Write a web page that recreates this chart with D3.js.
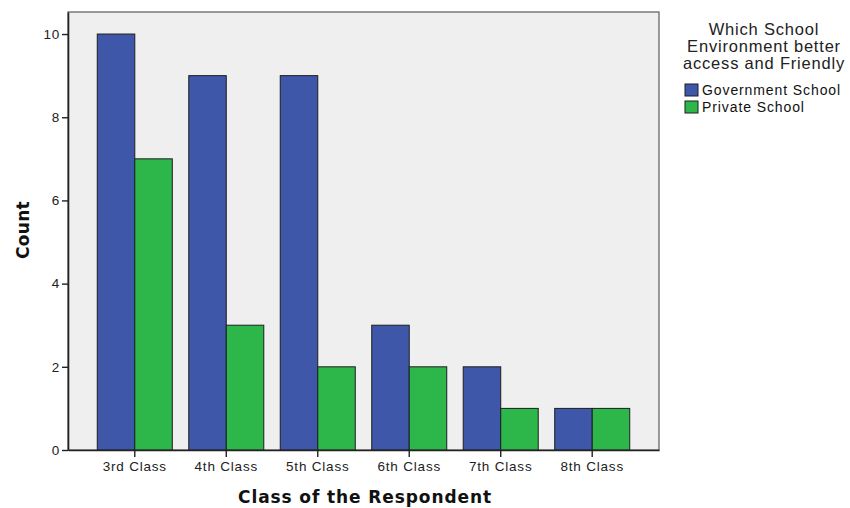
<!DOCTYPE html>
<html>
<head>
<meta charset="utf-8">
<script src="https://cdn.jsdelivr.net/npm/d3@7"></script>
<style>
  html, body { margin: 0; padding: 0; background: #ffffff; }
  svg { display: block; }
</style>
</head>
<body>
<svg id="chart" width="850" height="508"></svg>
<script>
// Respondent counts by class and preferred school environment
const categories = ["3rd Class", "4th Class", "5th Class", "6th Class", "7th Class", "8th Class"];
const seriesNames = ["Government School", "Private School"];
const governmentCounts = [10, 9, 9, 3, 2, 1];
const privateCounts = [7, 3, 2, 2, 1, 1];
const yTicks = [0, 2, 4, 6, 8, 10];
const legendTitle = ["Which School", "Environment better", "access and Friendly"];
const colors = ["#3e57a9", "#2db74b"];

const svg = d3.select("#chart");
const plot = { left: 68, right: 659, top: 12, bottom: 450 };

const x = d3.scaleBand()
  .domain(categories)
  .range([plot.left, plot.right])
  .paddingInner(0.18)
  .paddingOuter(0.32);

const xSub = d3.scaleBand()
  .domain(seriesNames)
  .range([0, x.bandwidth()]);

const y = d3.scaleLinear()
  .domain([0, 10.53])
  .range([plot.bottom, plot.top]);

const color = d3.scaleOrdinal().domain(seriesNames).range(colors);

// plot background and frame
svg.append("rect")
  .attr("x", plot.left).attr("y", plot.top)
  .attr("width", plot.right - plot.left).attr("height", plot.bottom - plot.top)
  .attr("fill", "#efefef")
  .attr("stroke", "#5a5a5a").attr("stroke-width", 1.2);

const rows = categories.map((c, i) => ({
  category: c,
  values: [
    { series: seriesNames[0], value: governmentCounts[i] },
    { series: seriesNames[1], value: privateCounts[i] }
  ]
}));

const groups = svg.append("g").selectAll("g")
  .data(rows)
  .join("g")
  .attr("transform", d => `translate(${x(d.category)},0)`);

groups.selectAll("rect")
  .data(d => d.values)
  .join("rect")
  .attr("x", d => xSub(d.series))
  .attr("y", d => y(d.value))
  .attr("width", xSub.bandwidth())
  .attr("height", d => y(0) - y(d.value))
  .attr("fill", d => color(d.series))
  .attr("stroke", "#1e1e1e")
  .attr("stroke-width", 1);

// axes
const yAxis = svg.append("g")
  .attr("transform", `translate(${plot.left},0)`)
  .call(d3.axisLeft(y).tickValues(yTicks).tickSize(6).tickSizeOuter(0).tickPadding(2).tickFormat(d3.format("d")));

const xAxis = svg.append("g")
  .attr("transform", `translate(0,${plot.bottom})`)
  .call(d3.axisBottom(x).tickSize(7).tickSizeOuter(0).tickPadding(4));

[yAxis, xAxis].forEach(a => {
  a.select(".domain").attr("stroke", "#222").attr("stroke-width", 1.6);
  a.selectAll(".tick line").attr("stroke", "#222").attr("stroke-width", 1.4);
  a.selectAll(".tick text")
    .attr("fill", "#222")
    .style("font-family", "'Liberation Sans', Arial, sans-serif")
    .style("font-size", "13.5px")
    .style("letter-spacing", "0.8px");
});

// axis titles
svg.append("text")
  .attr("x", 365).attr("y", 503)
  .attr("text-anchor", "middle")
  .style("font-family", "'DejaVu Sans', Verdana, sans-serif")
  .style("font-weight", "bold")
  .style("font-size", "17px")
  .style("letter-spacing", "0.9px")
  .attr("fill", "#111")
  .text("Class of the Respondent");

svg.append("text")
  .attr("transform", "translate(29,230) rotate(-90)")
  .attr("text-anchor", "middle")
  .style("font-family", "'DejaVu Sans', Verdana, sans-serif")
  .style("font-weight", "bold")
  .style("font-size", "17px")
  .style("letter-spacing", "0.3px")
  .attr("fill", "#111")
  .text("Count");

// legend
const legend = svg.append("g");
legend.selectAll("text.title")
  .data(legendTitle)
  .join("text")
  .attr("class", "title")
  .attr("x", 764)
  .attr("y", (d, i) => 35 + i * 17)
  .attr("text-anchor", "middle")
  .style("font-family", "'Liberation Sans', Arial, sans-serif")
  .style("font-size", "16.5px")
  .style("letter-spacing", "0.8px")
  .attr("fill", "#222")
  .text(d => d);

const items = legend.selectAll("g.item")
  .data(seriesNames)
  .join("g")
  .attr("class", "item")
  .attr("transform", (d, i) => `translate(685,${84 + i * 17})`);

items.append("rect")
  .attr("width", 13).attr("height", 12)
  .attr("fill", d => color(d))
  .attr("stroke", "#1e1e1e").attr("stroke-width", 1);

items.append("text")
  .attr("x", 17).attr("y", 11)
  .style("font-family", "'Liberation Sans', Arial, sans-serif")
  .style("font-size", "14px")
  .style("letter-spacing", "0.9px")
  .attr("fill", "#111")
  .text(d => d);
</script>
</body>
</html>
